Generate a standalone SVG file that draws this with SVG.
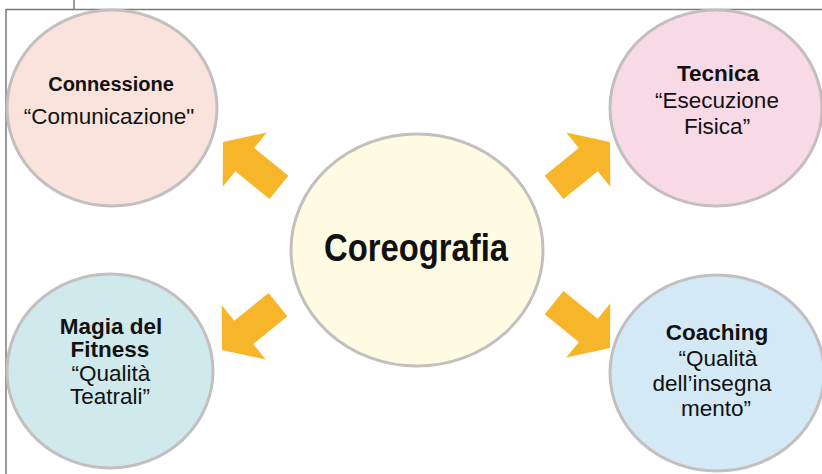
<svg xmlns="http://www.w3.org/2000/svg" xmlns:xlink="http://www.w3.org/1999/xlink" width="822" height="474" viewBox="0 0 822 474">
<style>
.frame{fill:none;stroke:#7a7a7a;stroke-width:1.5}
.node{stroke:#c4bfbf;stroke-width:3}
.arrow{fill:#f7b629}
text{font-family:"Liberation Sans",Arial,sans-serif;fill:#111;text-anchor:middle}
.b{font-weight:bold;font-size:22.5px}
.r{font-size:22.5px}
.big{font-weight:bold;font-size:39px}
</style>
<defs>
<path id="arr" d="M0,0 L-28,-35 L-28,-15 L-72,-15 L-72,15 L-28,15 L-28,35 Z"/>
</defs>
<rect x="0" y="0" width="822" height="474" fill="#ffffff"/>
<g id="frame">
<polyline class="frame" points="6,474 6,9.5 822,9.5"/>
<line class="frame" x1="74" y1="0" x2="74" y2="9.5"/>
</g>
<g id="connectors" class="arrow">
<use xlink:href="#arr" transform="translate(223,142) rotate(219)"/>
<use xlink:href="#arr" transform="translate(610,142) rotate(-39)"/>
<use xlink:href="#arr" transform="translate(222,350) rotate(141)"/>
<use xlink:href="#arr" transform="translate(610,348) rotate(39)"/>
</g>
<g id="center">
<ellipse class="node" cx="417" cy="250" rx="126" ry="116" fill="#fdfbe2"/>
<text class="big" x="416" y="261" textLength="184" lengthAdjust="spacingAndGlyphs">Coreografia</text>
</g>
<g id="connessione">
<ellipse class="node" cx="112" cy="108" rx="105" ry="98" fill="#f9e3dc"/>
<text class="b" x="111" y="91" style="font-size:20px">Connessione</text>
<text class="r" x="109" y="124">“Comunicazione"</text>
</g>
<g id="tecnica">
<ellipse class="node" cx="716" cy="108" rx="106" ry="98" fill="#f8d9e6"/>
<text class="b" x="718" y="81">Tecnica</text>
<text class="r" x="717" y="108">“Esecuzione</text>
<text class="r" x="717" y="134">Fisica”</text>
</g>
<g id="magia">
<ellipse class="node" cx="110" cy="371" rx="103" ry="97" fill="#cfe9ec"/>
<text class="b" x="111" y="334">Magia del</text>
<text class="b" x="110" y="357">Fitness</text>
<text class="r" x="111" y="381">“Qualità</text>
<text class="r" x="110" y="404">Teatrali”</text>
</g>
<g id="coaching">
<ellipse class="node" cx="717" cy="373" rx="107" ry="98" fill="#d3e9f6"/>
<text class="b" x="717" y="340">Coaching</text>
<text class="r" x="718" y="366">“Qualità</text>
<text class="r" x="712" y="391">dell’insegna</text>
<text class="r" x="716" y="416">mento”</text>
</g>
</svg>
